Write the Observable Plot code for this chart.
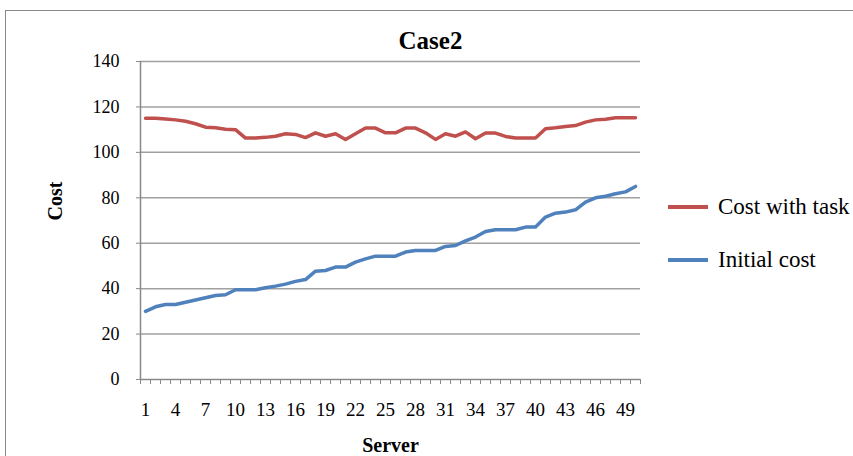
<!DOCTYPE html>
<html>
<head>
<meta charset="utf-8">
<script src="https://cdn.jsdelivr.net/npm/d3@7"></script>
<script src="https://cdn.jsdelivr.net/npm/@observablehq/plot@0.6"></script>
<style>
  html, body { margin: 0; padding: 0; background: #fff; }
  #wrap { position: relative; width: 853px; height: 456px; overflow: hidden; }
  #frame { position: absolute; left: 5px; top: 10px; width: 860px; height: 460px; border: 1.5px solid #8a8a8a; box-sizing: border-box; pointer-events: none; }
  #legend { position: absolute; left: 668px; top: 0; font-family: "Liberation Serif", serif; font-size: 23px; color: #000; }
  .item { position: absolute; left: 0; white-space: nowrap; display: flex; align-items: center; }
  .sw { display: inline-block; width: 40px; height: 3.5px; margin-right: 10px; }
</style>
</head>
<body>
<div id="wrap"><div id="chart"></div><div id="frame"></div><div id="legend"></div></div>
<script>
const servers = d3.range(1, 51);
const costWithTask = [115, 115, 114.7, 114.3, 113.7, 112.6, 111.1, 110.8, 110.2, 110,
  106.3, 106.3, 106.6, 107.1, 108.2, 107.9, 106.5, 108.6, 107.1, 108.2,
  105.7, 108.2, 110.7, 110.7, 108.6, 108.6, 110.7, 110.7, 108.6, 105.7,
  108.2, 107.1, 109, 106, 108.5, 108.5, 107, 106.3, 106.3, 106.3,
  110.4, 110.8, 111.4, 111.8, 113.3, 114.3, 114.6, 115.2, 115.2, 115.2];
const initialCost = [30, 32, 33, 33, 34, 35, 36, 37, 37.3, 39.5,
  39.5, 39.5, 40.4, 41.1, 42, 43.2, 44, 47.7, 48, 49.5,
  49.5, 51.7, 53.1, 54.3, 54.3, 54.3, 56.1, 56.8, 56.8, 56.8,
  58.6, 59, 61, 62.7, 65.2, 65.9, 65.9, 65.9, 67.1, 67.1,
  71.5, 73.2, 73.7, 74.7, 78.1, 80, 80.7, 81.8, 82.6, 85];
const xTickLabels = [1, 4, 7, 10, 13, 16, 19, 22, 25, 28, 31, 34, 37, 40, 43, 46, 49];
const yTicks = [0, 20, 40, 60, 80, 100, 120, 140];
const seriesNames = ["Cost with task", "Initial cost"];
const seriesColors = ["#C0504D", "#4F81BD"];
const title = "Case2";
const xTitle = "Server";
const yTitle = "Cost";

const rows = [];
servers.forEach((s, i) => {
  rows.push({server: s, cost: costWithTask[i], series: seriesNames[0]});
  rows.push({server: s, cost: initialCost[i], series: seriesNames[1]});
});
const boundaries = d3.range(0.5, 51, 1);

const chart = Plot.plot({
  width: 853,
  height: 456,
  marginLeft: 140,
  marginRight: 213,
  marginTop: 61,
  marginBottom: 77,
  style: {fontFamily: "Liberation Serif, serif", fontSize: "17px", color: "#000", background: "transparent"},
  x: {domain: [0.5, 50.5]},
  y: {domain: [0, 140]},
  color: {domain: seriesNames, range: seriesColors},
  marks: [
    Plot.gridY(yTicks.filter(d => d > 0), {stroke: "#a0a0a0", strokeOpacity: 1, strokeWidth: 1.5}),
    Plot.axisY({ticks: yTicks, tickSize: 4, tickPadding: 17, stroke: "#888", label: null, fontSize: 18}),
    Plot.axisX({ticks: boundaries, tickSize: 5, tickFormat: () => "", stroke: "#888", label: null}),
    Plot.axisX({ticks: xTickLabels, tickSize: 0, tickPadding: 23, label: null, fontSize: 19}),
    Plot.ruleY([0], {stroke: "#888", strokeWidth: 1.5}),
    Plot.ruleX([0.5], {stroke: "#888", strokeWidth: 1.5}),
    Plot.line(rows, {x: "server", y: "cost", stroke: "series", strokeWidth: 3.5, curve: "linear"}),
    Plot.text([title], {frameAnchor: "top", dx: 40, dy: -30, fontSize: 25, fontWeight: "bold"}),
    Plot.text([xTitle], {frameAnchor: "bottom", dy: 72, fontSize: 20, fontWeight: "bold"}),
    Plot.text([yTitle], {frameAnchor: "left", dx: -85, rotate: -90, fontSize: 20, fontWeight: "bold"})
  ]
});
document.getElementById("chart").appendChild(chart);

const legend = document.getElementById("legend");
const legendTops = [207, 260];
seriesNames.forEach((name, i) => {
  const it = document.createElement("div");
  it.className = "item";
  it.style.top = (legendTops[i] - 14) + "px";
  it.style.height = "28px";
  const sw = document.createElement("span");
  sw.className = "sw";
  sw.style.background = seriesColors[i];
  it.appendChild(sw);
  it.appendChild(document.createTextNode(name));
  legend.appendChild(it);
});
</script>
</body>
</html>
